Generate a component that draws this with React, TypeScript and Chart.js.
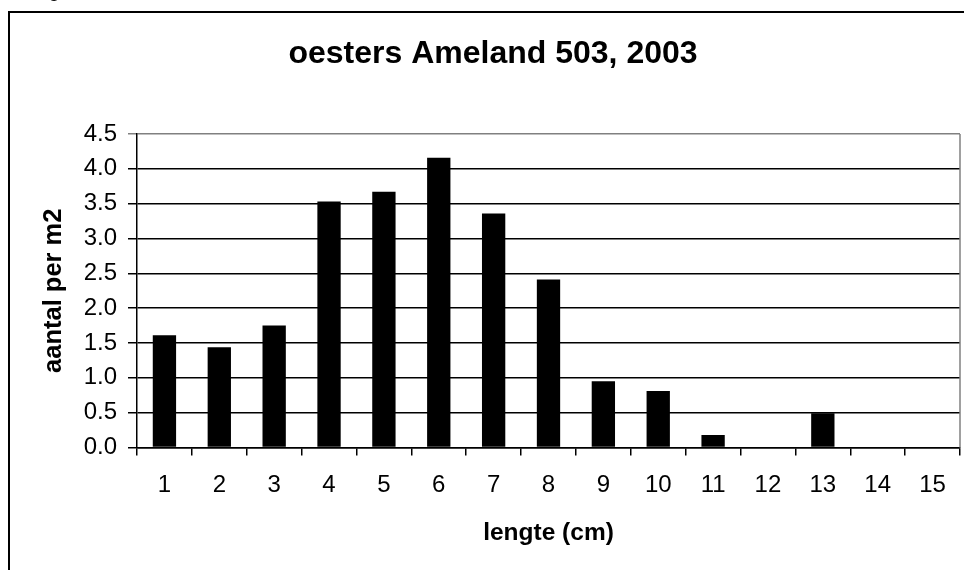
import { useEffect, useRef } from "react";
import { Chart, registerables } from "chart.js";

Chart.register(...registerables);

const categories = ["1", "2", "3", "4", "5", "6", "7", "8", "9", "10", "11", "12", "13", "14", "15"];
const values = [1.61, 1.44, 1.75, 3.53, 3.67, 4.16, 3.36, 2.41, 0.95, 0.81, 0.18, 0, 0.49, 0, 0];
const yTickLabels = ["0.0", "0.5", "1.0", "1.5", "2.0", "2.5", "3.0", "3.5", "4.0", "4.5"];
const chartTitle = "oesters Ameland 503, 2003";
const xTitle = "lengte (cm)";
const yTitle = "aantal per m2";
const captionText = "Figuur";

const FONT = "'Liberation Sans', Arial, Helvetica, sans-serif";

const framePlugin = {
  id: "frame",
  beforeDraw(chart: any) {
    const ctx = chart.ctx;
    ctx.save();
    ctx.fillStyle = "#fff";
    ctx.fillRect(0, 0, chart.width, chart.height);
    ctx.strokeStyle = "#000";
    ctx.lineWidth = 2;
    ctx.strokeRect(9, 12, chart.width + 40, chart.height + 40);
    ctx.font = `22px ${FONT}`;
    ctx.fillStyle = "#000";
    ctx.textBaseline = "alphabetic";
    ctx.textAlign = "left";
    ctx.fillText(captionText, 30, -4);
    ctx.restore();
  },
  afterDraw(chart: any) {
    const { ctx, chartArea } = chart;
    ctx.save();
    ctx.strokeStyle = "#808080";
    ctx.lineWidth = 1.5;
    ctx.beginPath();
    ctx.moveTo(chartArea.right, chartArea.top);
    ctx.lineTo(chartArea.right, chartArea.bottom);
    ctx.stroke();
    ctx.restore();
  },
};

export default function App() {
  const ref = useRef<HTMLCanvasElement | null>(null);

  useEffect(() => {
    if (!ref.current) return;
    const chart = new Chart(ref.current, {
      type: "bar",
      data: {
        labels: categories,
        datasets: [
          {
            data: values,
            backgroundColor: "#000",
            borderWidth: 0,
            barPercentage: 0.425,
            categoryPercentage: 1.0,
          },
        ],
      },
      options: {
        animation: false,
        responsive: false,
        devicePixelRatio: 1,
        layout: { padding: { left: 26, right: 4, top: 0, bottom: 0 } },
        plugins: {
          legend: { display: false },
          tooltip: { enabled: false },
          title: {
            display: true,
            text: chartTitle,
            color: "#000",
            font: { family: FONT, size: 32, weight: "bold", lineHeight: 1.2 },
            padding: { top: 34.8, bottom: 60.8 },
          },
        },
        scales: {
          x: {
            type: "category",
            afterFit(scale: any) {
              scale.height = 122.5;
            },
            grid: {
              display: true,
              drawOnChartArea: false,
              drawTicks: true,
              tickLength: 8,
              color: "#000",
              lineWidth: 1.5,
              offset: true,
            },
            border: { display: true, color: "#000", width: 1.5 },
            ticks: {
              color: "#000",
              font: { family: FONT, size: 24 },
              padding: 15.7,
              maxRotation: 0,
              autoSkip: false,
            },
            title: {
              display: true,
              text: xTitle,
              color: "#000",
              font: { family: FONT, size: 24.5, weight: "bold", lineHeight: 1.2 },
              padding: { top: 0, bottom: 22.3 },
            },
          },
          y: {
            type: "linear",
            min: 0,
            max: 4.5,
            afterFit(scale: any) {
              scale.width = 111;
            },
            grid: {
              color: (c: any) => (c.tick && c.tick.value === 4.5 ? "#808080" : "#000"),
              lineWidth: 1.5,
              tickLength: 9,
              drawTicks: true,
            },
            border: { display: true, color: "#000", width: 1.5 },
            ticks: {
              stepSize: 0.5,
              color: "#000",
              font: { family: FONT, size: 24 },
              padding: 11,
              callback: (_v: any, i: number) => yTickLabels[i],
            },
            title: {
              display: true,
              text: yTitle,
              color: "#000",
              font: { family: FONT, size: 25.5, weight: "bold", lineHeight: 1.2 },
              padding: { top: 12.7, bottom: 0 },
            },
          },
        },
      },
      plugins: [framePlugin],
    } as any);
    return () => chart.destroy();
  }, []);

  return (
    <div style={{ position: "fixed", left: 0, top: 0, width: 964, height: 570, background: "#fff" }}>
      <canvas ref={ref} width={964} height={570} style={{ width: 964, height: 570, display: "block" }} />
    </div>
  );
}
